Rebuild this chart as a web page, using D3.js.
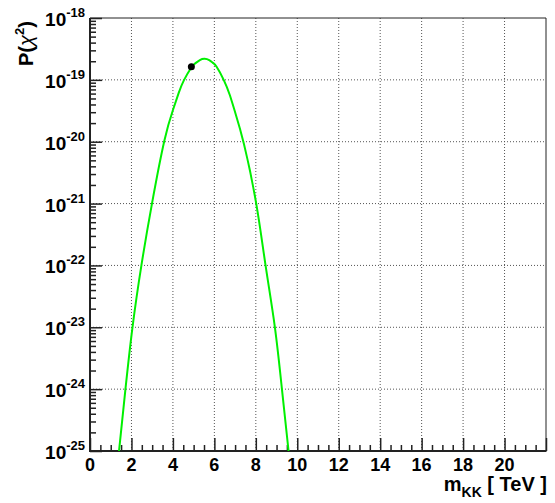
<!DOCTYPE html>
<html>
<head>
<meta charset="utf-8">
<script src="https://cdn.jsdelivr.net/npm/d3@7"></script>
<style>
html,body{margin:0;padding:0;background:#fff;}
svg{display:block;font-family:"Liberation Sans",Arial,Helvetica,sans-serif;}
</style>
</head>
<body>
<svg id="chart" width="555" height="503"></svg>
<script>
// Curve samples: mass (TeV) and log10 of P(chi^2)
const curveMass = [1.40, 1.71, 2.05, 2.48, 2.99, 3.59, 4.01, 4.28, 4.54, 4.89, 5.05, 5.30, 5.53, 5.75, 5.93, 6.10, 6.45, 6.74, 6.98, 7.43, 8.02, 8.47, 8.92, 9.26, 9.58];
const curveLogP = [-25, -24, -23, -22, -21, -19.98, -19.48, -19.21, -19, -18.80, -18.74, -18.68, -18.66, -18.68, -18.725, -18.785, -19, -19.24, -19.50, -20.04, -21, -22, -23, -24, -25];
// Best-fit point
const pointMass = [4.89];
const pointLogP = [-18.79];
// Axes
const xTicks = [0, 2, 4, 6, 8, 10, 12, 14, 16, 18, 20];
const yExponents = [-25, -24, -23, -22, -21, -20, -19, -18];

const svg = d3.select("#chart");
const L = 90, R = 546, T = 18, B = 451;
const x = d3.scaleLinear().domain([0, 22]).range([L, R]);
const y = d3.scaleLog().domain([1e-25, 1e-18]).range([B, T]);

const g = svg.append("g");

// grid
g.selectAll("line.gx").data(xTicks.filter(d => d > 0)).enter().append("line")
  .attr("x1", d => x(d)).attr("x2", d => x(d)).attr("y1", T).attr("y2", B)
  .attr("stroke", "#555").attr("stroke-width", 1).attr("stroke-dasharray", "1,2");
g.selectAll("line.gy").data(yExponents.filter(e => e > -25 && e < -18)).enter().append("line")
  .attr("x1", L).attr("x2", R).attr("y1", e => y(Math.pow(10, e))).attr("y2", e => y(Math.pow(10, e)))
  .attr("stroke", "#555").attr("stroke-width", 1).attr("stroke-dasharray", "1,2");

// x axis ticks
const minorX = d3.range(0, 22.01, 0.5).filter(v => Math.abs(v / 2 - Math.round(v / 2)) > 1e-6);
const xMajor = d3.axisBottom(x).tickValues(d3.range(0, 22.01, 2)).tickSize(-13).tickFormat("");
const xMinor = d3.axisBottom(x).tickValues(minorX).tickSize(-6).tickFormat("");
[xMajor, xMinor].forEach(ax => {
  const a = g.append("g").attr("transform", `translate(0,${B})`).call(ax);
  a.select(".domain").remove();
  a.selectAll("line").attr("stroke", "#222").attr("stroke-width", 1.5);
});

// y axis ticks
const minorY = [];
for (let e = -25; e < -18; e++) for (let k = 2; k <= 9; k++) minorY.push(k * Math.pow(10, e));
const yMajor = d3.axisLeft(y).tickValues(yExponents.map(e => Math.pow(10, e))).tickSize(-12).tickFormat("");
const yMinor = d3.axisLeft(y).tickValues(minorY).tickSize(-6).tickFormat("");
[yMajor, yMinor].forEach(ax => {
  const a = g.append("g").attr("transform", `translate(${L},0)`).call(ax);
  a.select(".domain").remove();
  a.selectAll("line").attr("stroke", "#222").attr("stroke-width", 1.5);
});

// frame
g.append("line").attr("x1", L).attr("x2", R).attr("y1", T).attr("y2", T).attr("stroke", "#222").attr("stroke-width", 1);
g.append("line").attr("x1", R).attr("x2", R).attr("y1", T).attr("y2", B).attr("stroke", "#222").attr("stroke-width", 1);
g.append("line").attr("x1", L - 1).attr("x2", R + 0.5).attr("y1", B).attr("y2", B).attr("stroke", "#222").attr("stroke-width", 2);
g.append("line").attr("x1", L).attr("x2", L).attr("y1", T).attr("y2", B + 1).attr("stroke", "#222").attr("stroke-width", 2);

// curve
const pts = curveMass.map((m, i) => [m, Math.pow(10, curveLogP[i])]);
const line = d3.line().x(d => x(d[0])).y(d => y(d[1])).curve(d3.curveNatural);
g.append("path").datum(pts).attr("d", line).attr("fill", "none")
  .attr("stroke", "#00f000").attr("stroke-width", 2);

// point
g.selectAll("circle.pt").data(pointMass.map((m, i) => [m, Math.pow(10, pointLogP[i])])).enter()
  .append("circle").attr("cx", d => x(d[0])).attr("cy", d => y(d[1])).attr("r", 3.5).attr("fill", "#000");

// x tick labels
g.selectAll("text.xl").data(xTicks).enter().append("text")
  .attr("x", d => x(d)).attr("y", 471).attr("text-anchor", "middle")
  .attr("font-size", 18).attr("font-weight", "bold").attr("fill", "#000").text(d => d);

// y tick labels
yExponents.forEach(e => {
  const t = g.append("text").attr("x", 85).attr("y", y(Math.pow(10, e)) + 8)
    .attr("text-anchor", "end").attr("font-weight", "bold").attr("fill", "#000");
  t.append("tspan").attr("font-size", 19).text("10");
  t.append("tspan").attr("font-size", 13).attr("dy", -9).text(String(e));
});

// x title
const xt = g.append("text").attr("x", 547).attr("y", 491).attr("text-anchor", "end")
  .attr("font-weight", "bold").attr("fill", "#000").attr("font-size", 20);
xt.append("tspan").text("m");
xt.append("tspan").attr("font-size", 14).attr("dy", 6).text("KK");
xt.append("tspan").attr("dy", -6).text(" [ TeV ]");

// y title
const yt = g.append("text").attr("transform", "translate(33,66) rotate(-90)")
  .attr("text-anchor", "start").attr("font-weight", "bold").attr("fill", "#000").attr("font-size", 20);
yt.append("tspan").text("P(");
yt.append("tspan").attr("font-style", "italic").attr("font-weight", "normal").text("χ");
yt.append("tspan").attr("font-size", 13).attr("dy", -9).text("2");
yt.append("tspan").attr("dy", 9).text(")");
</script>
</body>
</html>
